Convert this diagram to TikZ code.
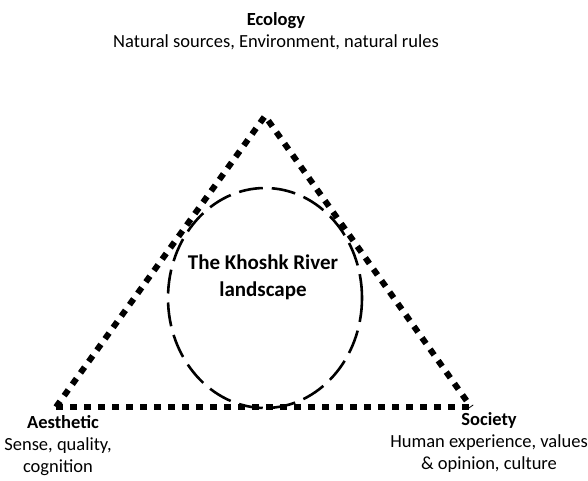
\documentclass[tikz,border=0pt]{standalone}
\usepackage{fontspec}
\setmainfont{Carlito}
\usetikzlibrary{positioning}

\begin{document}
\begin{tikzpicture}[x=1pt,y=-1pt]
        \tikzstyle{every node}+=[inner sep=0pt, align=center]
        \tikzstyle{lbl}=[font=\fontsize{18.5}{22}\selectfont]
        \tikzstyle{core}=[font=\fontsize{21}{27}\selectfont\bfseries]
        \tikzstyle{edge}=[black, line width=6pt, dash pattern=on 7pt off 7pt]
        \tikzstyle{ring}=[black, line width=2.6pt, dash pattern=on 24pt off 9pt]
        \useasboundingbox (0,0) rectangle (588,480);
        \coordinate (apex) at (265,116);
        \coordinate (left) at (56,407);
        \coordinate (right) at (471,407);
        \draw [edge] (left) -- (apex) -- (right);
        \draw [edge] (left) -- (right);
        \draw [ring] (265,298) ellipse (97 and 110);
        \node [core] (land) at (263,277) {The Khoshk River\\landscape};
        \node [lbl] (eco) at (276,31) {\textbf{Ecology}\\Natural sources, Environment, natural rules};
        \node [lbl] (aes) at (58,446) {\hspace*{10pt}\textbf{Aesthetic}\\Sense, quality,\\cognition};
        \node [lbl] (soc) at (489,442) {\textbf{Society}\\Human experience, values\\\& opinion, culture};
\end{tikzpicture}
\end{document}
